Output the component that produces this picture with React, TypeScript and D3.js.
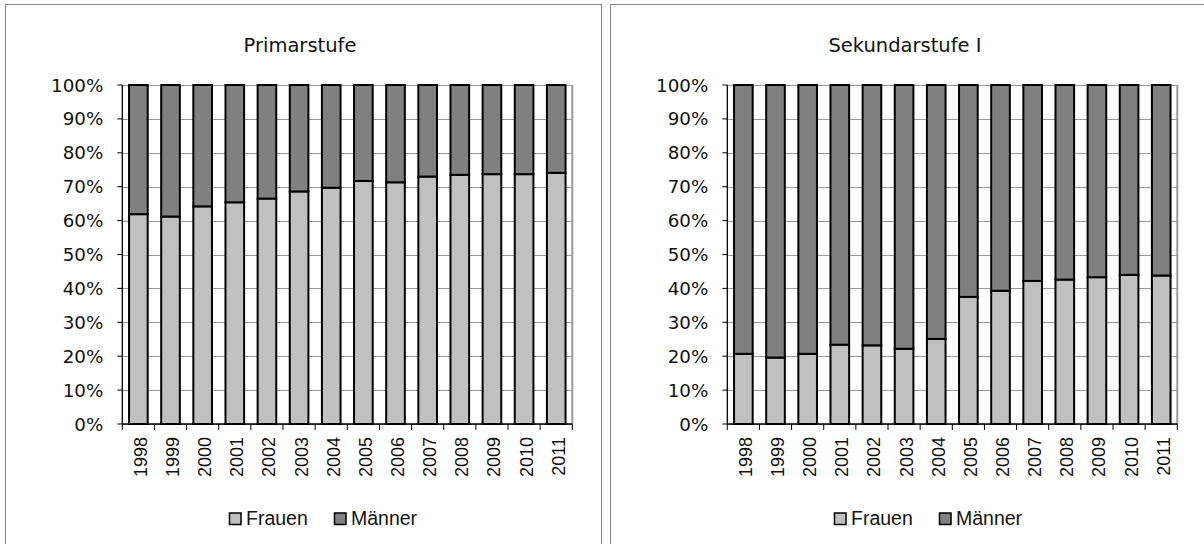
import React from "react";
import * as d3 from "d3";

const years = ["1998", "1999", "2000", "2001", "2002", "2003", "2004", "2005", "2006", "2007", "2008", "2009", "2010", "2011"];
const seriesNames = ["Frauen", "Männer"];
const seriesColors = ["#c0c0c0", "#808080"];
const yTicks = [0, 10, 20, 30, 40, 50, 60, 70, 80, 90, 100];

const primarFrauen = [61.9, 61.2, 64.2, 65.4, 66.5, 68.6, 69.7, 71.7, 71.3, 73.0, 73.5, 73.7, 73.7, 74.1];
const primarMaenner = [38.1, 38.8, 35.8, 34.6, 33.5, 31.4, 30.3, 28.3, 28.7, 27.0, 26.5, 26.3, 26.3, 25.9];

const sekFrauen = [20.7, 19.6, 20.7, 23.4, 23.2, 22.2, 25.1, 37.5, 39.3, 42.2, 42.6, 43.3, 44.0, 43.8];
const sekMaenner = [79.3, 80.4, 79.3, 76.6, 76.8, 77.8, 74.9, 62.5, 60.7, 57.8, 57.4, 56.7, 56.0, 56.2];

const tickFont = "'DejaVu Sans', sans-serif";
const labelFont = "'Liberation Sans', Arial, sans-serif";

type PanelProps = { x0: number; title: string; frauen: number[]; maenner: number[] };

const Panel = ({ x0, title, frauen, maenner }: PanelProps) => {
  const plotLeft = x0 + 117.3;
  const plotW = 450;
  const top = 85;
  const bottom = 424;

  const x = d3.scaleBand().domain(years).range([plotLeft, plotLeft + plotW]).paddingInner(0.42).paddingOuter(0.21);
  const y = d3.scaleLinear().domain([0, 100]).range([bottom, top]);
  const step = x.step();

  const rows = years.map((yr, i) => ({ year: yr, Frauen: frauen[i], Männer: maenner[i] }));
  const stacked = d3.stack<any>().keys(seriesNames)(rows);

  const boundaries = d3.range(years.length + 1).map((i) => plotLeft + i * step);

  return (
    <g>
      <rect x={x0 + 0.5} y={4.5} width={596} height={560} fill="#fff" stroke="#888" strokeWidth={1} />
      <text x={x0 + 295} y={52} textAnchor="middle" fontFamily={tickFont} fontSize={19.5} fill="#111">
        {title}
      </text>

      {yTicks.map((t) => (
        <line key={"g" + t} x1={plotLeft} x2={plotLeft + plotW} y1={Math.round(y(t)) + 0.5} y2={Math.round(y(t)) + 0.5} stroke="#999" strokeWidth={1} />
      ))}
      <line x1={plotLeft + plotW} x2={plotLeft + plotW} y1={top} y2={bottom} stroke="#999" strokeWidth={2} />

      {stacked.map((s, si) =>
        s.map((d, i) => (
          <rect
            key={seriesNames[si] + i}
            x={x(years[i])}
            y={y(d[1])}
            width={x.bandwidth()}
            height={y(d[0]) - y(d[1])}
            fill={seriesColors[si]}
            stroke="#000"
            strokeWidth={2}
          />
        ))
      )}

      <line x1={plotLeft} x2={plotLeft} y1={top} y2={bottom} stroke="#000" strokeWidth={1.3} />
      <line x1={plotLeft} x2={plotLeft + plotW} y1={bottom} y2={bottom} stroke="#000" strokeWidth={1.3} />
      {yTicks.map((t) => (
        <g key={"t" + t}>
          <line x1={plotLeft - 5} x2={plotLeft} y1={y(t)} y2={y(t)} stroke="#000" strokeWidth={1} />
          <text x={plotLeft - 19} y={y(t)} dy="0.36em" textAnchor="end" fontFamily={tickFont} fontSize={18.3} fill="#111">
            {t + "%"}
          </text>
        </g>
      ))}
      {boundaries.map((bx, i) => (
        <line key={"xb" + i} x1={bx} x2={bx} y1={bottom} y2={bottom + 6} stroke="#000" strokeWidth={1} />
      ))}
      {years.map((yr) => {
        const cx = (x(yr) as number) + x.bandwidth() / 2 + 2;
        return (
          <text
            key={"yl" + yr}
            transform={`translate(${cx},${bottom + 13}) rotate(-90)`}
            textAnchor="end"
            dy="0.36em"
            fontFamily={labelFont}
            fontSize={18}
            fill="#111"
          >
            {yr}
          </text>
        );
      })}

      {seriesNames.map((name, i) => {
        const lx = x0 + 224 + i * 105;
        return (
          <g key={"lg" + name}>
            <rect x={lx + 0.5} y={513} width={11.5} height={11.5} fill={seriesColors[i]} stroke="#000" strokeWidth={1.5} />
            <text x={lx + 17} y={525} fontFamily={labelFont} fontSize={19.5} fill="#111">
              {name}
            </text>
          </g>
        );
      })}
    </g>
  );
};

export default function App() {
  return (
    <svg width={1204} height={544} style={{ position: "absolute", left: 0, top: 0, background: "#fff" }}>
      <rect x={0} y={0} width={1204} height={544} fill="#fff" />
      <Panel x0={5} title="Primarstufe" frauen={primarFrauen} maenner={primarMaenner} />
      <Panel x0={610} title="Sekundarstufe I" frauen={sekFrauen} maenner={sekMaenner} />
    </svg>
  );
}
